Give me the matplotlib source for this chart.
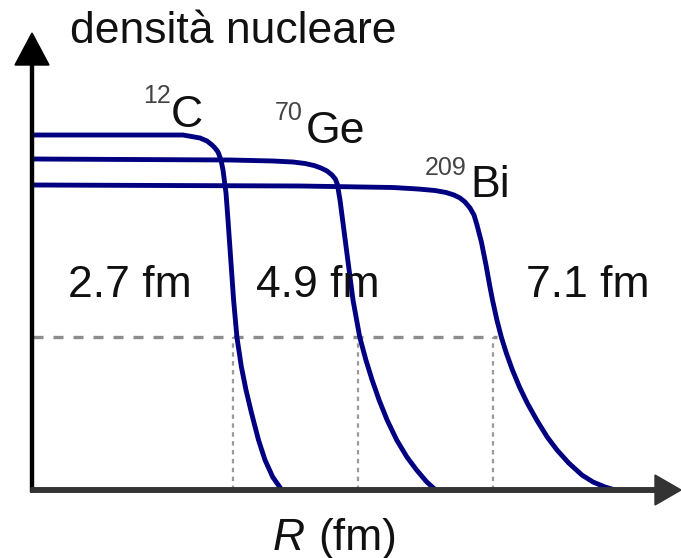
import matplotlib
matplotlib.use("Agg")
import matplotlib.pyplot as plt

plt.rcParams['font.family'] = ['Liberation Sans', 'DejaVu Sans']

# ---- data (arbitrary drawing units) ----
nuclei_mass = ['12', '70', '209']
nuclei_symbol = ['C', 'Ge', 'Bi']
radius_labels = ['2.7 fm', '4.9 fm', '7.1 fm']

r_C = [0.00, 1.07, 1.50, 1.67, 1.74, 1.79, 1.82, 1.85, 1.88, 1.90, 1.93,
       1.95, 1.973, 2.006, 2.039, 2.084, 2.13, 2.185, 2.255, 2.32, 2.397, 2.488]
rho_C = [3.55, 3.55, 3.55, 3.52, 3.49, 3.45, 3.42, 3.38, 3.30, 3.20, 2.97,
         2.70, 2.37, 1.90, 1.53, 1.23, 1.00, 0.77, 0.50, 0.30, 0.13, 0.00]

r_Ge = [0.00, 1.97, 2.40, 2.60, 2.72, 2.81, 2.88, 2.94, 2.99, 3.023, 3.043,
        3.07, 3.10, 3.135, 3.20, 3.267, 3.329, 3.391, 3.461, 3.541, 3.637,
        3.739, 3.836, 3.938, 4.026]
rho_Ge = [3.31, 3.30, 3.29, 3.28, 3.265, 3.245, 3.22, 3.19, 3.15, 3.11, 3.06,
          2.90, 2.67, 2.40, 1.90, 1.53, 1.30, 1.10, 0.90, 0.70, 0.50, 0.33,
          0.20, 0.08, 0.00]

r_Bi = [0.00, 2.67, 3.60, 3.85, 4.02, 4.13, 4.21, 4.27, 4.32, 4.37, 4.41, 4.44,
        4.484, 4.53, 4.566, 4.595, 4.639, 4.683, 4.733, 4.794, 4.865, 4.942,
        5.037, 5.142, 5.24, 5.357, 5.489, 5.60, 5.72, 5.82]
rho_Bi = [3.05, 3.04, 3.025, 3.01, 2.995, 2.975, 2.95, 2.92, 2.88, 2.82, 2.75,
          2.65, 2.48, 2.25, 2.05, 1.90, 1.70, 1.53, 1.37, 1.20, 1.03, 0.87,
          0.70, 0.53, 0.40, 0.27, 0.15, 0.08, 0.03, 0.00]

half_density = 1.53
half_radius = [2.00, 3.25, 4.60]
half_line_end = 4.64

# ---- figure ----
fig = plt.figure(figsize=(6.81, 5.58), dpi=100)
ax = fig.add_axes([0, 0, 1, 1])
ax.set_xlim(-0.33, 6.48)
ax.set_ylim(-0.68, 4.90)
ax.axis('off')

curve_color = '#000080'
# dashed guide lines
ax.hlines(half_density, 0, half_line_end, colors='#8c8c8c', lw=2.4,
          linestyles=(0, (3.0, 3.0)), zorder=1)
ax.vlines(half_radius, 0, half_density, colors='#9a9a9a', lw=1.6,
          linestyles=(0, (2.0, 2.0)), zorder=1)

for r, rho in ((r_C, rho_C), (r_Ge, rho_Ge), (r_Bi, rho_Bi)):
    ax.plot(r, rho, color=curve_color, lw=3.5, solid_joinstyle='round',
            solid_capstyle='butt', zorder=2)

# axes with arrows
ax.arrow(-0.01, -0.02, 0, 4.59, width=0.03, head_width=0.34, head_length=0.32,
         length_includes_head=True, color='black', zorder=3)
ax.arrow(-0.02, 0.0, 6.50, 0, width=0.045, head_width=0.30, head_length=0.26,
         length_includes_head=True, color='#333333', zorder=3)

fs = 32
sfs = 18
tc = '#111111'
ax.text(0.37, 4.47, 'densità nucleare', fontsize=fs, color=tc, ha='left', va='baseline')

# nucleus labels
sup_pos = [(1.10, 3.87), (2.42, 3.70), (3.92, 3.15)]
sym_pos = [(1.38, 3.63), (2.73, 3.47), (4.37, 2.93)]
for m, s, (xm, ym), (xs, ys) in zip(nuclei_mass, nuclei_symbol, sup_pos, sym_pos):
    ax.text(xm, ym, m, fontsize=sfs, color='#444444', ha='left', va='baseline')
    ax.text(xs, ys, s, fontsize=fs, color=tc, ha='left', va='baseline')

lab_x = [0.35, 2.23, 4.93]
for lx, lab in zip(lab_x, radius_labels):
    ax.text(lx, 1.93, lab, fontsize=fs, color=tc, ha='left', va='baseline')

ax.text(2.40, -0.60, 'R', fontsize=fs, color=tc, style='italic', ha='left', va='baseline')
ax.text(2.85, -0.60, '(fm)', fontsize=fs, color=tc, ha='left', va='baseline')

fig.savefig('out.png', dpi=100)
